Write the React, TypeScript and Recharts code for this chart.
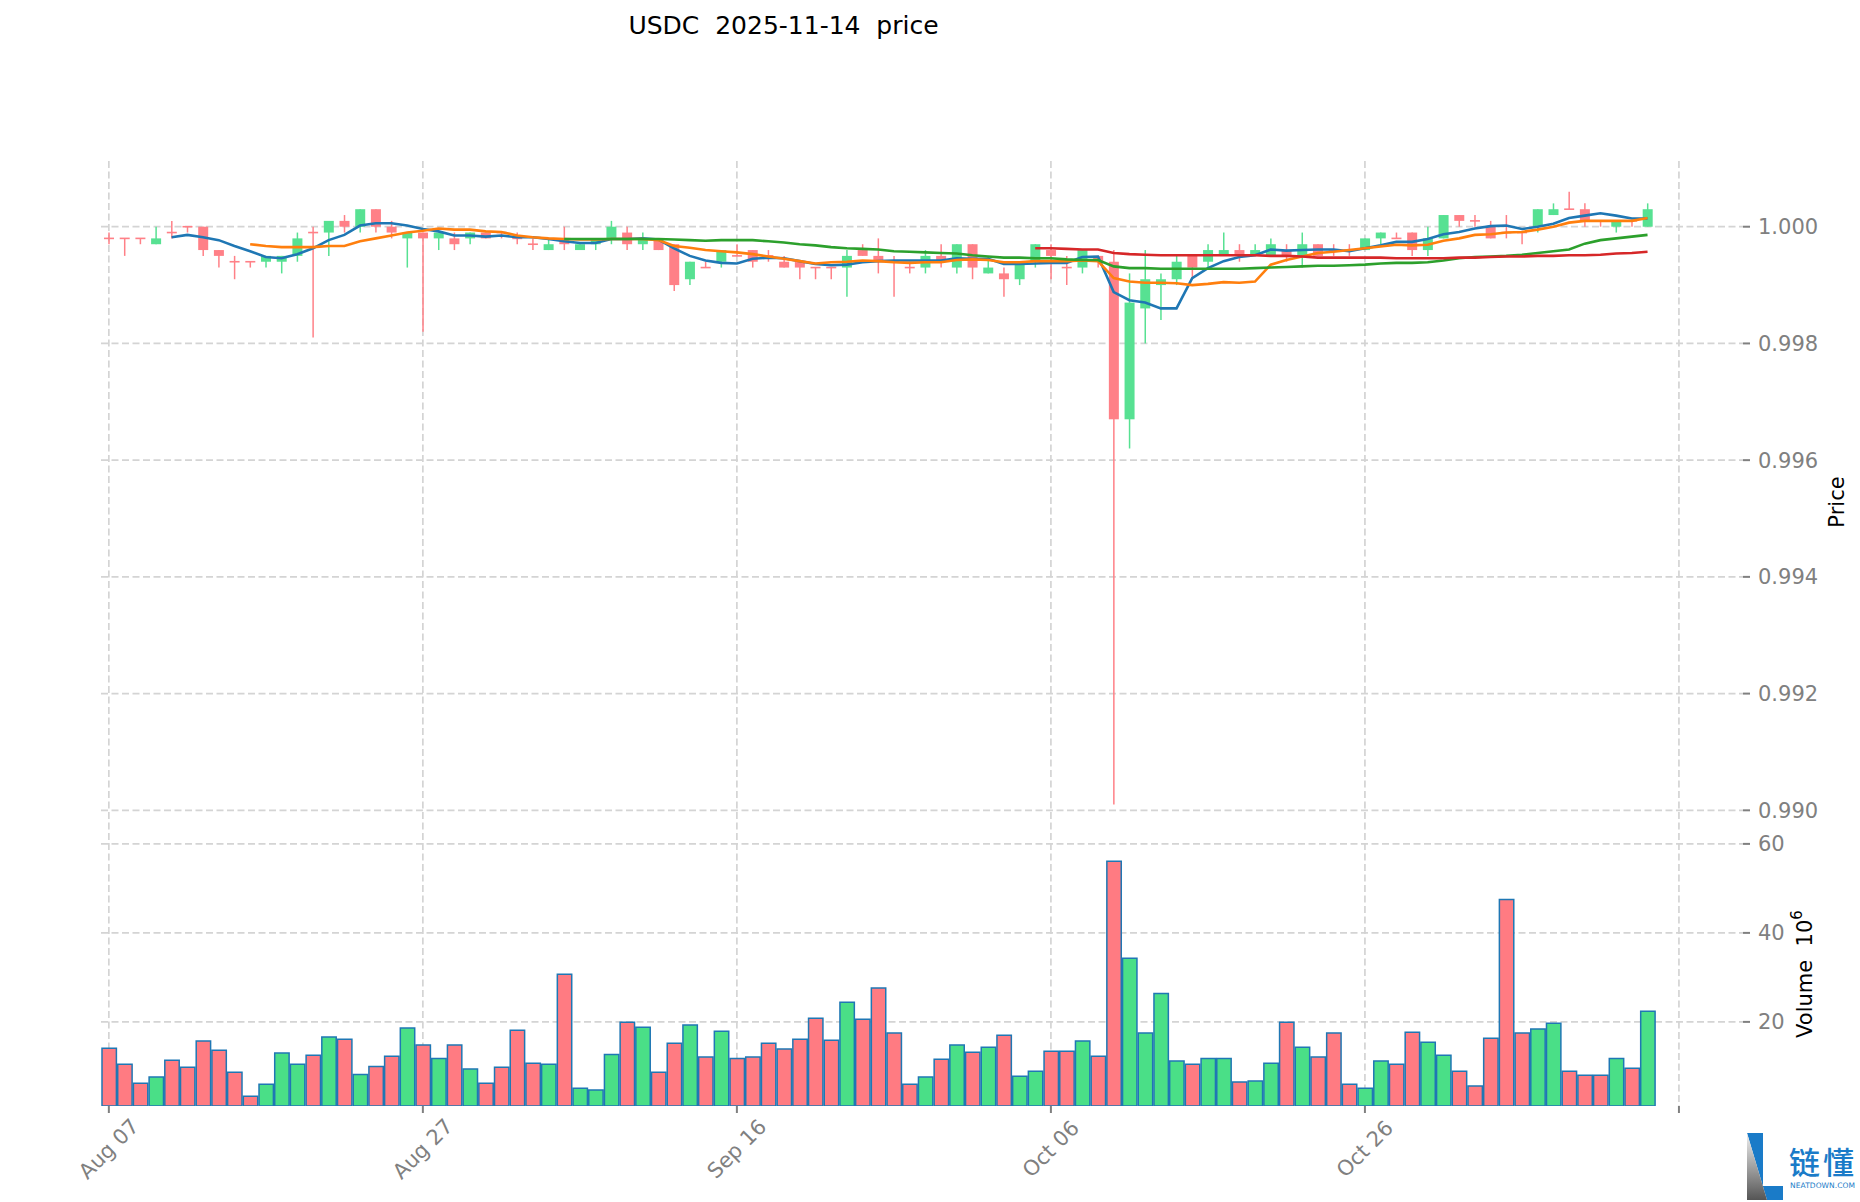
import { Bar, CartesianGrid, Cell, ComposedChart, Line, XAxis, YAxis } from 'recharts'

const days = [
  0, 1, 2, 3, 4, 5, 6, 7, 8, 9, 10, 11, 12, 13, 14, 15, 16, 17, 18, 19, 20, 21, 22, 23, 24, 25, 26, 27, 28, 29, 30, 31, 32,
  33, 34, 35, 36, 37, 38, 39, 40, 41, 42, 43, 44, 45, 46, 47, 48, 49, 50, 51, 52, 53, 54, 55, 56, 57, 58, 59, 60, 61, 62, 63,
  64, 65, 66, 67, 68, 69, 70, 71, 72, 73, 74, 75, 76, 77, 78, 79, 80, 81, 82, 83, 84, 85, 86, 87, 88, 89, 90, 91, 92, 93, 94,
  95, 96, 97, 98,
]

const opens = [
  0.9998, 0.9998, 0.9998, 0.9997, 0.9999, 1.0, 1.0, 0.9996, 0.9994, 0.9994, 0.9994, 0.9994, 0.9995, 0.9999, 0.9999, 1.0001,
  1.0, 1.0003, 1.0, 0.9998, 0.9999, 0.9998, 0.9998, 0.9998, 0.9999, 0.9999, 0.9998, 0.9997, 0.9996, 0.9998, 0.9996, 0.9997,
  0.9998, 0.9999, 0.9997, 0.9998, 0.9997, 0.9991, 0.9993, 0.9994, 0.9995, 0.9996, 0.9995, 0.9994, 0.9994, 0.9993, 0.9993,
  0.9993, 0.9996, 0.9995, 0.9994, 0.9993, 0.9993, 0.9995, 0.9993, 0.9997, 0.9992, 0.9992, 0.9991, 0.9994, 0.9996, 0.9993,
  0.9993, 0.9995, 0.9994, 0.9967, 0.9986, 0.999, 0.9991, 0.9995, 0.9994, 0.9995, 0.9996, 0.9995, 0.9995, 0.9996, 0.9995,
  0.9997, 0.9996, 0.9996, 0.9996, 0.9998, 0.9998, 0.9999, 0.9996, 0.9998, 1.0002, 1.0001, 1.0, 0.9999, 0.9999, 1.0, 1.0002,
  1.0003, 1.0003, 1.0001, 1.0, 1.0001, 1.0,
]
const highs = [
  0.9999, 0.9998, 0.9998, 1.0, 1.0001, 1.0, 1.0, 0.9996, 0.9995, 0.9994, 0.9995, 0.9995, 0.9999, 1.0, 1.0001, 1.0002, 1.0003,
  1.0003, 1.0001, 0.9999, 0.9999, 0.9999, 0.9999, 0.9999, 0.9999, 0.9999, 0.9999, 0.9998, 0.9998, 1.0, 0.9997, 0.9998, 1.0001,
  1.0, 0.9999, 0.9998, 0.9997, 0.9994, 0.9994, 0.9996, 0.9997, 0.9996, 0.9996, 0.9995, 0.9994, 0.9993, 0.9993, 0.9996, 0.9997,
  0.9998, 0.9995, 0.9994, 0.9996, 0.9997, 0.9997, 0.9997, 0.9995, 0.9993, 0.9994, 0.9997, 0.9997, 0.9995, 0.9996, 0.9995,
  0.9996, 0.9992, 0.9996, 0.9992, 0.9995, 0.9995, 0.9997, 0.9999, 0.9997, 0.9997, 0.9998, 0.9997, 0.9999, 0.9997, 0.9997,
  0.9997, 0.9998, 0.9999, 0.9999, 0.9999, 1.0, 1.0002, 1.0002, 1.0002, 1.0001, 1.0002, 0.9999, 1.0003, 1.0004, 1.0006, 1.0004,
  1.0001, 1.0001, 1.0001, 1.0004,
]
const lows = [
  0.9997, 0.9995, 0.9997, 0.9997, 0.9998, 0.9999, 0.9995, 0.9993, 0.9991, 0.9993, 0.9993, 0.9992, 0.9994, 0.9981, 0.9995,
  0.9999, 0.9999, 0.9999, 0.9998, 0.9993, 0.9982, 0.9996, 0.9996, 0.9997, 0.9998, 0.9998, 0.9997, 0.9996, 0.9996, 0.9996,
  0.9996, 0.9996, 0.9997, 0.9996, 0.9996, 0.9996, 0.9989, 0.999, 0.9993, 0.9993, 0.9995, 0.9993, 0.9994, 0.9993, 0.9991,
  0.9991, 0.9991, 0.9988, 0.9995, 0.9992, 0.9988, 0.9992, 0.9992, 0.9993, 0.9992, 0.9991, 0.9992, 0.9988, 0.999, 0.9993,
  0.9991, 0.999, 0.9992, 0.9993, 0.9901, 0.9962, 0.998, 0.9984, 0.999, 0.9991, 0.9993, 0.9995, 0.9994, 0.9995, 0.9995, 0.9994,
  0.9993, 0.9995, 0.9995, 0.9995, 0.9996, 0.9997, 0.9998, 0.9995, 0.9995, 0.9998, 1.0, 1.0, 0.9998, 0.9998, 0.9997, 0.9999,
  1.0002, 1.0003, 1.0, 1.0, 0.9999, 1.0, 1.0,
]
const closes = [
  0.9998, 0.9998, 0.9998, 0.9998, 0.9999, 1.0, 0.9996, 0.9995, 0.9994, 0.9994, 0.9995, 0.9995, 0.9998, 0.9999, 1.0001, 1.0,
  1.0003, 1.0, 0.9999, 0.9999, 0.9998, 0.9999, 0.9997, 0.9999, 0.9998, 0.9999, 0.9998, 0.9997, 0.9997, 0.9997, 0.9997, 0.9998,
  1.0, 0.9997, 0.9998, 0.9996, 0.999, 0.9994, 0.9993, 0.9996, 0.9995, 0.9994, 0.9995, 0.9993, 0.9993, 0.9993, 0.9993, 0.9995,
  0.9995, 0.9994, 0.9994, 0.9993, 0.9995, 0.9994, 0.9997, 0.9993, 0.9993, 0.9991, 0.9994, 0.9997, 0.9995, 0.9993, 0.9996,
  0.9994, 0.9967, 0.9987, 0.9991, 0.9991, 0.9994, 0.9993, 0.9996, 0.9996, 0.9995, 0.9996, 0.9997, 0.9995, 0.9997, 0.9995,
  0.9996, 0.9996, 0.9998, 0.9999, 0.9998, 0.9996, 0.9998, 1.0002, 1.0001, 1.0001, 0.9998, 0.9999, 0.9999, 1.0003, 1.0003,
  1.0003, 1.0001, 1.0001, 1.0001, 1.0001, 1.0003,
]

const ma5 = [
  null, null, null, null, 0.99982, 0.99986, 0.99982, 0.99977, 0.99967, 0.99958, 0.99948, 0.99946, 0.99953, 0.99963, 0.99977,
  0.99986, 1.00002, 1.00006, 1.00006, 1.00002, 0.99996, 0.99992, 0.99985, 0.99985, 0.99983, 0.99985, 0.99982, 0.99982, 0.99979,
  0.99975, 0.99972, 0.99972, 0.99979, 0.99979, 0.9998, 0.99978, 0.99963, 0.9995, 0.99942, 0.99938, 0.99937, 0.99945, 0.99947,
  0.99946, 0.99941, 0.99936, 0.99934, 0.99935, 0.99939, 0.99941, 0.99942, 0.99942, 0.99942, 0.99942, 0.99946, 0.99945, 0.99945,
  0.99936, 0.99936, 0.99937, 0.99938, 0.99938, 0.99948, 0.99949, 0.99888, 0.99874, 0.9987, 0.9986, 0.9986, 0.99912, 0.99929,
  0.99941, 0.99948, 0.99951, 0.99961, 0.99959, 0.9996, 0.99961, 0.99961, 0.99958, 0.99963, 0.99968, 0.99974, 0.99974, 0.99979,
  0.99987, 0.99991, 0.99997, 1.00001, 1.00002, 0.99996, 1.0, 1.00005, 1.00015, 1.00019, 1.00023, 1.00019, 1.00014, 1.00014,
]
const ma10 = [
  null, null, null, null, null, null, null, null, null, 0.9997, 0.99967, 0.99965, 0.99965, 0.99965, 0.99967, 0.99967, 0.99975,
  0.9998, 0.99985, 0.9999, 0.99993, 0.99997, 0.99995, 0.99995, 0.99992, 0.99991, 0.99985, 0.99982, 0.9998, 0.99979, 0.99978,
  0.99978, 0.99979, 0.99979, 0.99979, 0.99977, 0.99967, 0.99964, 0.9996, 0.99958, 0.99956, 0.99953, 0.99949, 0.99945, 0.99941,
  0.99937, 0.99939, 0.9994, 0.99942, 0.99941, 0.99939, 0.99938, 0.99939, 0.99939, 0.99943, 0.99944, 0.99943, 0.99939, 0.99939,
  0.99941, 0.99941, 0.99941, 0.99942, 0.99941, 0.99912, 0.99906, 0.99904, 0.99904, 0.99903, 0.999, 0.99902, 0.99905, 0.99904,
  0.99906, 0.99935, 0.99943, 0.99949, 0.99955, 0.99957, 0.9996, 0.99963, 0.99966, 0.99969, 0.99968, 0.99969, 0.99976, 0.9998,
  0.99986, 0.99987, 0.9999, 0.99991, 0.99995, 1.0, 1.00007, 1.0001, 1.0001, 1.0001, 1.0001, 1.00015,
]
const ma30 = [
  null, null, null, null, null, null, null, null, null, null, null, null, null, null, null, null, null, null, null, null, null,
  null, null, null, null, null, null, null, null, 0.99979, 0.99979, 0.99979, 0.99979, 0.99979, 0.99979, 0.99979, 0.99978, 0.99977,
  0.99976, 0.99977, 0.99977, 0.99977, 0.99975, 0.99973, 0.9997, 0.99968, 0.99965, 0.99963, 0.99962, 0.99961, 0.99958, 0.99957,
  0.99956, 0.99955, 0.99954, 0.99951, 0.99949, 0.99947, 0.99947, 0.99946, 0.99946, 0.99944, 0.99943, 0.99943, 0.99932, 0.99929,
  0.99929, 0.99928, 0.99928, 0.99928, 0.99928, 0.99928, 0.99928, 0.99929, 0.9993, 0.99931, 0.99932, 0.99933, 0.99933, 0.99934,
  0.99935, 0.99937, 0.99938, 0.99938, 0.99939, 0.99942, 0.99946, 0.99948, 0.99949, 0.9995, 0.99952, 0.99955, 0.99958, 0.99961,
  0.99971, 0.99977, 0.9998, 0.99983, 0.99986,
]
const ma60 = [
  null, null, null, null, null, null, null, null, null, null, null, null, null, null, null, null, null, null, null, null, null,
  null, null, null, null, null, null, null, null, null, null, null, null, null, null, null, null, null, null, null, null, null,
  null, null, null, null, null, null, null, null, null, null, null, null, null, null, null, null, null, 0.99963, 0.99963, 0.99962,
  0.99961, 0.99961, 0.99955, 0.99953, 0.99952, 0.99951, 0.99951, 0.99951, 0.99951, 0.99951, 0.99951, 0.99951, 0.9995, 0.9995,
  0.99949, 0.99947, 0.99947, 0.99947, 0.99947, 0.99947, 0.99946, 0.99946, 0.99946, 0.99946, 0.99947, 0.99947, 0.99948, 0.99949,
  0.99949, 0.9995, 0.9995, 0.99951, 0.99951, 0.99952, 0.99954, 0.99955, 0.99957,
]

const volumes = [
  14.1, 10.5, 6.2, 7.6, 11.4, 9.8, 15.7, 13.6, 8.7, 3.3, 6.0, 13.0, 10.5, 12.5, 16.6, 16.1, 8.2, 10.0, 12.3, 18.6, 14.8, 11.8,
  14.8, 9.4, 6.2, 9.8, 18.1, 10.7, 10.5, 30.7, 5.1, 4.7, 12.7, 19.9, 18.8, 8.7, 15.2, 19.3, 12.1, 17.9, 11.8, 12.1, 15.2, 13.9,
  16.1, 20.8, 15.9, 24.4, 20.6, 27.6, 17.5, 6.0, 7.6, 11.6, 14.8, 13.2, 14.3, 17.0, 7.8, 8.9, 13.4, 13.4, 15.7, 12.3, 56.1, 34.3,
  17.5, 26.4, 11.2, 10.5, 11.8, 11.8, 6.5, 6.7, 10.7, 19.9, 14.3, 12.1, 17.5, 6.0, 5.1, 11.2, 10.5, 17.7, 15.4, 12.5, 8.9, 5.6,
  16.3, 47.5, 17.5, 18.4, 19.7, 8.9, 8.0, 8.0, 11.8, 9.6, 22.4,
]

const xTicks = [0, 20, 40, 60, 80, 100]
const xLabels = ['Aug 07', 'Aug 27', 'Sep 16', 'Oct 06', 'Oct 26', '']
const priceTicks = [0.99, 0.992, 0.994, 0.996, 0.998, 1.0]
const volumeTicks = [20, 40, 60]

const rows = days.map((day, i) => ({
  day,
  open: opens[i],
  high: highs[i],
  low: lows[i],
  close: closes[i],
  ma5: ma5[i],
  ma10: ma10[i],
  ma30: ma30[i],
  ma60: ma60[i],
  volume: volumes[i],
}))

const UP = '#57e192'
const DOWN = '#ff8087'
const GREY = '#808080'
const FONT = '"DejaVu Sans", sans-serif'
const xDomain = [-0.5, 104.08]
const gridProps = { stroke: '#d4d4d4', strokeWidth: 1.7, strokeDasharray: '7 3.5', syncWithTicks: true }
const tickStyle = { fill: GREY, fontSize: 21, fontFamily: FONT }
const lineProps = { strokeWidth: 2.6, dot: false, type: 'linear', isAnimationActive: false } as const

const Candle = ({ x, y, width, height, payload }: any) => {
  const { open, high, low, close } = payload
  const perUnit = height / (high - low)
  const top = y + (high - Math.max(open, close)) * perUnit
  const bodyHeight = Math.abs(open - close) * perUnit
  const color = close > open ? UP : DOWN
  const cx = x + width / 2
  return (
    <g>
      <line x1={cx} x2={cx} y1={y} y2={y + height} stroke={color} strokeWidth={1.5} />
      <rect x={x} y={top - (bodyHeight < 1 ? 0.8 : 0)} width={width} height={Math.max(bodyHeight, 1.6)} fill={color} />
    </g>
  )
}

const DateTick = ({ x, y, payload }: any) => {
  const label = xLabels[xTicks.indexOf(payload.value)]
  const cy = y + 34
  return (
    <text
      x={x}
      y={cy}
      transform={`rotate(-45 ${x} ${cy})`}
      textAnchor="middle"
      dominantBaseline="central"
      {...tickStyle}
    >
      {label}
    </text>
  )
}

// the price panel shares its dates with the volume panel, it only needs the ticks for the grid
const NoTick = () => <g />

const Logo = () => (
  <svg width={1860} height={1202} style={{ position: 'absolute', left: 0, top: 0, pointerEvents: 'none' }}>
    <defs>
      <linearGradient id="logoGrey" x1="0" y1="0" x2="0" y2="1">
        <stop offset="5%" stopColor="#e8e8e8" />
        <stop offset="100%" stopColor="#555" />
      </linearGradient>
    </defs>
    <polygon points="1747,1133 1763,1133 1763,1186 1783,1186 1783,1200 1767,1200" fill="#1a7bc8" />
    <polygon points="1747,1133 1767,1200 1747,1200" fill="url(#logoGrey)" />
    <text x={1789} y={1174} fontSize={31} fontWeight={500} fill="#1a7bc8" fontFamily='"Noto Sans CJK SC"' textLength={65}>
      链懂
    </text>
    <text x={1790} y={1188} fontSize={7.5} fill="#1a7bc8" fontFamily={FONT} textLength={65}>
      NEATDOWN.COM
    </text>
    <text x={783.5} y={34} fontSize={25} textAnchor="middle" fill="#000" fontFamily={FONT} style={{ whiteSpace: 'pre' }}>
      {'USDC  2025-11-14  price'}
    </text>
    <text
      x={1837}
      y={502}
      fontSize={21}
      textAnchor="middle"
      dominantBaseline="central"
      fill="#000"
      fontFamily={FONT}
      transform="rotate(-90 1837 502)"
    >
      Price
    </text>
    <text
      x={1805}
      y={974}
      fontSize={21}
      textAnchor="middle"
      dominantBaseline="central"
      fill="#000"
      fontFamily={FONT}
      transform="rotate(-90 1805 974)"
      style={{ whiteSpace: 'pre' }}
    >
      {'Volume  10'}
      <tspan dy={-8} fontSize={15}>
        6
      </tspan>
    </text>
  </svg>
)

export default function App() {
  return (
    <div style={{ position: 'absolute', left: 0, top: 0, width: 1860, height: 1202, background: '#fff', overflow: 'hidden' }}>
      <div style={{ position: 'absolute', left: 0, top: 0 }}>
        <ComposedChart width={1860} height={843} data={rows} margin={{ top: 161, right: 0, bottom: 0, left: 101 }}>
          <CartesianGrid {...gridProps} />
          <XAxis
            dataKey="day"
            type="number"
            domain={xDomain}
            ticks={xTicks}
            height={0}
            interval={0}
            tick={<NoTick />}
            tickLine={false}
            axisLine={false}
            allowDataOverflow
          />
          <YAxis
            orientation="right"
            domain={[0.98944, 1.001126]}
            ticks={priceTicks}
            interval={0}
            width={117}
            axisLine={false}
            tickLine={{ stroke: GREY, strokeWidth: 2 }}
            tickSize={7}
            tickMargin={8}
            tick={tickStyle}
            tickFormatter={(v: number) => v.toFixed(3)}
            allowDataOverflow
          />
          <Bar
            dataKey={(d: any) => [d.low, d.high]}
            barSize={10}
            shape={<Candle />}
            isAnimationActive={false}
          />
          <Line dataKey="ma5" stroke="#1f77b4" {...lineProps} />
          <Line dataKey="ma10" stroke="#ff7f0e" {...lineProps} />
          <Line dataKey="ma30" stroke="#2ca02c" {...lineProps} />
          <Line dataKey="ma60" stroke="#d62728" {...lineProps} />
        </ComposedChart>
      </div>
      <div style={{ position: 'absolute', left: 0, top: 820 }}>
        <ComposedChart width={1860} height={382} data={rows} margin={{ top: 23, right: 0, bottom: 0, left: 101 }}>
          <CartesianGrid {...gridProps} />
          <XAxis
            dataKey="day"
            type="number"
            domain={xDomain}
            ticks={xTicks}
            height={96}
            interval={0}
            axisLine={false}
            tickLine={{ stroke: GREY, strokeWidth: 2 }}
            tickSize={7}
            tick={<DateTick />}
            allowDataOverflow
          />
          <YAxis
            orientation="right"
            domain={[1.1, 60.2]}
            ticks={volumeTicks}
            interval={0}
            width={117}
            axisLine={false}
            tickLine={{ stroke: GREY, strokeWidth: 2 }}
            tickSize={7}
            tickMargin={8}
            tick={tickStyle}
            allowDataOverflow
          />
          <Bar dataKey="volume" barSize={14.4} stroke="#1f77b4" strokeWidth={1.5} isAnimationActive={false}>
            {rows.map((row) => (
              <Cell key={row.day} fill={row.close > row.open ? '#4adf87' : '#ff7b82'} />
            ))}
          </Bar>
        </ComposedChart>
      </div>
      <Logo />
    </div>
  )
}
